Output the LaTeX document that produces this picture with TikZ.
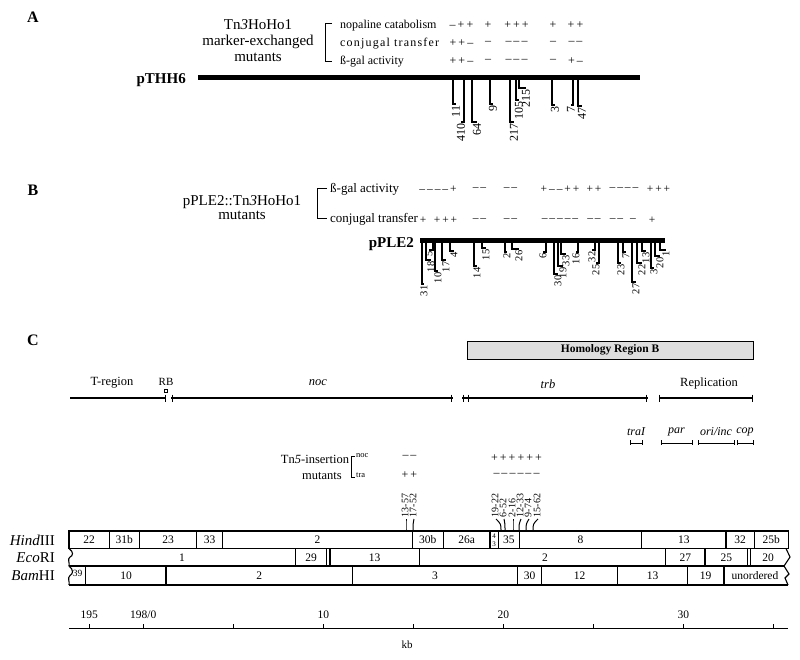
\documentclass[tikz,border=0pt]{standalone}
\usepackage{fontspec}
\setmainfont{Liberation Serif}
\usetikzlibrary{positioning}
\newcommand\fsz[1]{\fontsize{#1}{#1}\selectfont}

\begin{document}
\begin{tikzpicture}[x=1pt,y=-1pt,
  panel/.style={inner sep=0pt,font=\fsz{16}\bfseries},
  lbl/.style={inner sep=0pt,font=\fsz{12}},
  sgn/.style={inner sep=0pt,font=\fsz{12}},
  ins/.style={rotate=90,anchor=east,inner sep=1pt,font=\fsz{#1}},
  ins/.default=12,
  cins/.style={rotate=90,anchor=west,inner sep=0.5pt,font=\fsz{10}},
  cell/.style={inner sep=0pt,font=\fsz{11.5}},
  hook/.style={line width=1.1pt},
  bar/.style={line width=5pt},
  reg/.style={line width=1.8pt},
  frag/.style={line width=1.1pt},
]
\useasboundingbox (0,0) rectangle (800,660);

% ---- A ----
\node[panel] (A) at (33,17) {A};
\node[lbl,font=\fontsize{15}{16}\selectfont,align=center] (tnA) at (258,41)
  {Tn\textit{3}HoHo1\\marker-exchanged\\mutants};
\draw[line width=1pt] (332,24) -| (325,62) -- (332,62);
\foreach \y/\t in {25/nopaline catabolism,43/{\addfontfeature{LetterSpace=10}conjugal transfer},61/ß-gal activity}
  \node[lbl,anchor=base west] at (340,\y+4) {\t};
\foreach \x/\a/\b/\c in {461.5/{–\,+\,+}/{+\,+\,–}/{+\,+\,–},488/+/–/–,516.5/{+\,+\,+}/{–\,–\,–}/{–\,–\,–},553/+/–/–,575.5/{+\,+}/{–\,–}/{+\,–}}{
  \node[sgn] at (\x,25) {\a};
  \node[sgn] at (\x,43) {\b};
  \node[sgn] at (\x,61) {\c};
}
\node[inner sep=0pt,font=\fsz{15}\bfseries,anchor=base east] (pthh) at (186,84) {pTHH6};
\draw[bar] (198,77.5) -- (640,77.5);
\foreach \x/\lx/\d/\t in {453/456/104/11,464/461/122/410,472/477/122/64,490/493/104/9,510/514/122/217,516/519/100/105,519/526/88/215,552/555/105/3,573/571/105/7,578/582/106/47}
  \draw[hook] (\x,80) |- (\lx,\d) node[ins] (a\t) {\t};

% ---- B ----
\node[panel] (B) at (33,190) {B};
\node[lbl,font=\fontsize{15}{14}\selectfont,align=center] (tnB) at (242,208)
  {pPLE2::Tn\textit{3}HoHo1\\mutants};
\draw[line width=1pt] (327,189) -| (317,219) -- (327,219);
\node[lbl,font=\fsz{13},anchor=base west] (bgal) at (330,193) {ß-gal activity};
\node[lbl,font=\fsz{13},anchor=base west] (bcon) at (330,223) {conjugal transfer};
\foreach \x/\t in {438/{–\,–\,–\,–\,+},479.5/{–\,–},510.5/{–\,–},560/{+\,–\,–\,+\,+},594/{+\,+},624/{–\,–\,–\,–},658.5/{+\,+\,+}}
  \node[sgn,font=\fsz{11.5}] at (\x,189) {\t};
\foreach \x/\t in {423/+,445.5/{+\,+\,+},479.5/{–\,–},510.5/{–\,–},560/{–\,–\,–\,–\,–},594/{–\,–},616.5/{–\,–},633/–,652/+}
  \node[sgn,font=\fsz{11.5}] at (\x,220) {\t};
\node[inner sep=0pt,font=\fsz{15}\bfseries,anchor=base east] (pple) at (414,248) {pPLE2};
\draw[bar] (420,240.5) -- (665,240.5);
\foreach \x/\lx/\d/\t in {422/424/284/31,426/431/260/18,433/429/250/5,435/438/271/10,442/446/260/17,450/454/251/4,474/477/266/14,482/486/248/15,505/507/252/2,512/519/249/26,546/543/252/6,554/558/274/30,558/563/266/19,561/566/254/33,578/576/252/16,595/592/250/32,599/596/263/25,618/621/263/23,623/626/252/7,632/636/282/27,637/642/263/22,642/646/251/13,651/654/268/3,655/660/256/20,660/666/250/1}
  \draw[hook] (\x,243) |- (\lx,\d) node[ins=10.5] (b\t) {\t};

% ---- C ----
\node[panel] (C) at (33,340) {C};
\node[draw,line width=1pt,fill=black!13,minimum width=286pt,minimum height=18pt,inner sep=0pt,font=\fsz{11.5}\bfseries] (hom) at (610,350) {Homology Region B};
\node[lbl,font=\fsz{12.5}] (treg) at (112,383) {T-region};
\node[lbl,font=\fsz{11}] (rb) at (166,382) {RB};
\node[lbl,font=\fsz{12.5}\itshape] (noc) at (318,383) {noc};
\node[lbl,font=\fsz{12.5}\itshape] (trb) at (548,384) {trb};
\node[lbl,font=\fsz{12.5}] (repl) at (709,383) {Replication};
\draw[line width=0.8pt] (164.5,389.5) rectangle (167.5,392.5);
\draw[reg] (70,398) -- (166,398);
\draw[reg] (171,398) -- (453,398);
\draw[reg,line width=2.4pt] (462,398) -- (648,398);
\draw[reg] (659,398) -- (753,398);
\foreach \x in {165,172,451,463,468,646,659.5,752.5}
  \draw[line width=1pt] (\x,394.5) -- (\x,401.5);
\foreach \a/\b/\t in {630/642/traI,661/692/par,698/734/{ori/inc},737/753/cop}{
  \draw[line width=1pt] (\a,440) -- (\a,445) (\a,443.5) -- (\b,443.5) (\b,440) -- (\b,445);
  \node[lbl,font=\fsz{12}\itshape] at ({(\a+\b)/2},432) {\t};
}

% Tn5 mutants
\node[lbl,font=\fsz{12.5}] (tn5) at (315,459) {Tn\textit{5}-insertion};
\node[lbl,font=\fsz{12.5}] (mutC) at (322,476) {mutants};
\draw[line width=0.8pt] (355,456) -| (351,477) -- (355,477);
\node[lbl,font=\fsz{8.5},anchor=west] (cnoc) at (356,456) {noc};
\node[lbl,font=\fsz{8.5},anchor=west] (ctra) at (356,475) {tra};
\node[sgn] at (409.5,457) {–\,–};
\node[sgn] at (409.5,475) {+\,+};
\node[sgn] at (516.5,458) {+\,+\,+\,+\,+\,+};
\node[sgn] at (516.5,475) {–\,–\,–\,–\,–\,–};
\foreach \x/\b/\t in {405/406/13-57,413/413/17-52,495/501/19-22,503/505/6-52,512/513/2-16,520/519/12-33,528/526/9-74,537/533/15-62}{
  \node[cins] (m\t) at (\x,518) {\t};
  \draw[line width=1pt] (\x+1,519) .. controls (\b,524) .. (\b,531);
}

% restriction map
\node[inner sep=0pt,font=\fsz{15},anchor=east] (hind) at (55,540) {\textit{Hind}III};
\node[inner sep=0pt,font=\fsz{15},anchor=east] (eco) at (55,557.5) {\textit{Eco}RI};
\node[inner sep=0pt,font=\fsz{15},anchor=east] (bam) at (55,576) {\textit{Bam}HI};
\draw[frag] (69,531) rectangle (788.3,548.5);
\draw[frag] (69,566) -- (784,566);
\draw[frag] (69,585) -- (788,585);
\draw[frag] (69,548.5) .. controls (74,552) and (73,556) .. (70,557) .. controls (67,559) and (70,563) .. (69,566);
\draw[frag] (69,566) .. controls (74,570) and (73,574) .. (70,575.5) .. controls (67,578) and (70,582) .. (69,585);
\draw[frag] (786,548.5) -- (790,557) -- (784,566);
\draw[frag] (784,566) -- (789,574) -- (785,578) -- (788,585);
\foreach \x in {109.3,139.3,196.7,222.7,412.3,443.3,490,498.3,519.3,641.7,726,754.3}
  \draw[frag] (\x,531) -- (\x,548.5);
\foreach \x in {295.7,326.7,330,419.3,665.7,705,747.7,750.7}
  \draw[frag] (\x,548.5) -- (\x,566);
\foreach \x in {85.7,166,352.7,517.3,541.7,617.7,687.3,724}
  \draw[frag] (\x,566) -- (\x,585);
\foreach \x/\t in {89.2/22,124.3/31b,168/23,209.7/33,317.5/2,427.8/30b,466.7/26a,508.8/35,580.5/8,683.8/13,740.2/32,771.3/25b}
  \node[cell] at (\x,540) {\t};
\node[cell,font=\fsz{7}] at (494.2,536) {4};
\node[cell,font=\fsz{7}] at (494.2,544.5) {3};
\foreach \x/\t in {182/1,311.2/29,374.7/13,545/2,685.3/27,726.3/25,768/20}
  \node[cell] at (\x,557.5) {\t};
\node[cell,font=\fsz{9.5}] at (77.5,573.5) {39};
\foreach \x/\t in {126/10,259.3/2,435/3,529.5/30,579.7/12,652.5/13,705.7/19,755/unordered}
  \node[cell] at (\x,575.5) {\t};

% scale
\draw[line width=1pt] (69,628) -- (788,628);
\foreach \x in {89.3,143.3,233.3,323.3,413.3,503.3,593.3,683.3,773.3}
  \draw[line width=1pt] (\x,628) -- (\x,623.5);
\foreach \x/\t in {89.3/195,143.3/{198/0},323.3/10,503.3/20,683.3/30}
  \node[cell] at (\x,615) {\t};
\node[cell,font=\fsz{11}] (kb) at (407,645) {kb};
\end{tikzpicture}
\end{document}
